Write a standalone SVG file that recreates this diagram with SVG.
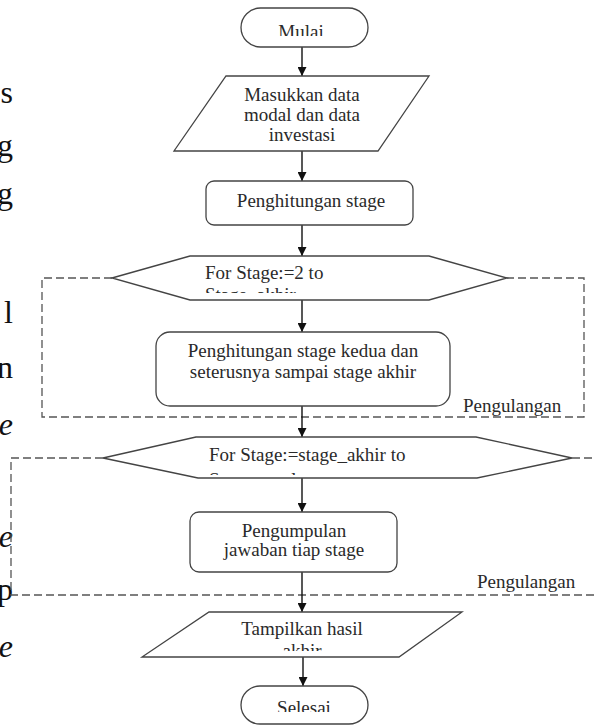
<svg xmlns="http://www.w3.org/2000/svg" width="596" height="725" viewBox="0 0 596 725">
<defs>
<style>
.shape{fill:#fff;stroke:#444;stroke-width:1.3}
.t{font-family:"Liberation Serif","Times New Roman",serif;font-size:19px;fill:#2a2a2a}
.c{text-anchor:middle}
.side{font-family:"Liberation Serif","Times New Roman",serif;font-size:32px;fill:#111;text-anchor:end}
.it{font-style:italic}
.dash{fill:none;stroke:#555;stroke-width:1.3;stroke-dasharray:8,4}
.arrow{stroke:#111;stroke-width:1.4;fill:none;marker-end:url(#ah)}
</style>
<marker id="ah" viewBox="0 0 10 10" refX="10" refY="5" markerWidth="9" markerHeight="9" markerUnits="userSpaceOnUse" orient="auto">
<path d="M0,0 L10,5 L0,10 z" fill="#111"/>
</marker>
<clipPath id="cMulai"><rect x="241" y="8" width="127" height="28"/></clipPath>
<clipPath id="cHex1"><rect x="112" y="256" width="395" height="37"/></clipPath>
<clipPath id="cHex2"><rect x="103" y="437" width="469" height="38"/></clipPath>
<clipPath id="cOut"><rect x="142" y="612" width="320" height="39"/></clipPath>
<clipPath id="cSel"><rect x="241" y="686" width="127" height="26"/></clipPath>
</defs>
<rect width="596" height="725" fill="#fff"/>

<g id="side-text">
<text class="side" x="13" y="103">s</text>
<text class="side" x="13" y="156">g</text>
<text class="side" x="13" y="204">g</text>
<text class="side" x="13" y="323">l</text>
<text class="side" x="13" y="378">n</text>
<text class="side it" x="13" y="435">e</text>
<text class="side it" x="13" y="547">e</text>
<text class="side" x="13" y="600">p</text>
<text class="side it" x="13" y="657">e</text>
</g>

<g id="loop1">
<path class="dash" d="M112,278 H42 V417 H584 V278 H507"/>
<text class="t" x="463" y="412">Pengulangan</text>
</g>
<g id="loop2">
<path class="dash" d="M103,458 H11 V595 H596 M572,458 H596"/>
<text class="t" x="477" y="588">Pengulangan</text>
</g>

<g id="connectors">
<line class="arrow" x1="302" y1="47" x2="302" y2="76"/>
<line class="arrow" x1="302" y1="151" x2="302" y2="181"/>
<line class="arrow" x1="302" y1="225" x2="302" y2="256"/>
<line class="arrow" x1="302" y1="300" x2="302" y2="332"/>
<line class="arrow" x1="302" y1="406" x2="302" y2="437"/>
<line class="arrow" x1="302" y1="478" x2="302" y2="512"/>
<line class="arrow" x1="302" y1="572" x2="302" y2="612"/>
<line class="arrow" x1="303" y1="657" x2="303" y2="686"/>
</g>

<g id="mulai">
<rect class="shape" x="241" y="8" width="127" height="39" rx="19.5"/>
<text class="t c" x="301" y="38" clip-path="url(#cMulai)">Mulai</text>
</g>

<g id="input">
<polygon class="shape" points="226,76 429,76 378,151 174,151"/>
<text class="t c" x="302" y="101">Masukkan data</text>
<text class="t c" x="302" y="121">modal dan data</text>
<text class="t c" x="302" y="141">investasi</text>
</g>

<g id="stage1">
<rect class="shape" x="206" y="181" width="207" height="44" rx="8"/>
<text class="t c" x="311" y="207">Penghitungan stage</text>
</g>

<g id="loop1-head">
<polygon class="shape" points="112,278 190,256 429,256 507,278 429,300 190,300"/>
<g clip-path="url(#cHex1)">
<text class="t" x="205" y="279">For Stage:=2 to</text>
<text class="t" x="205" y="301">Stage_akhir</text>
</g>
</g>

<g id="stage2">
<rect class="shape" x="156" y="332" width="294" height="74" rx="14"/>
<text class="t c" x="303" y="357">Penghitungan stage kedua dan</text>
<text class="t c" x="303" y="378">seterusnya sampai stage akhir</text>
</g>

<g id="loop2-head">
<polygon class="shape" points="103,458 196,437 476,437 572,458 477,478 198,478"/>
<g clip-path="url(#cHex2)">
<text class="t" x="209" y="461">For Stage:=stage_akhir to</text>
<text class="t" x="209" y="486">Stage_awal</text>
</g>
</g>

<g id="collect">
<rect class="shape" x="190" y="512" width="207" height="60" rx="9"/>
<text class="t c" x="294" y="537">Pengumpulan</text>
<text class="t c" x="294" y="556">jawaban tiap stage</text>
</g>

<g id="output">
<polygon class="shape" points="209,612 462,612 399,657 142,657"/>
<g clip-path="url(#cOut)">
<text class="t c" x="302" y="635">Tampilkan hasil</text>
<text class="t c" x="302" y="657">akhir</text>
</g>
</g>

<g id="selesai">
<rect class="shape" x="241" y="686" width="127" height="38" rx="19"/>
<text class="t c" x="304" y="714" clip-path="url(#cSel)">Selesai</text>
</g>
</svg>
